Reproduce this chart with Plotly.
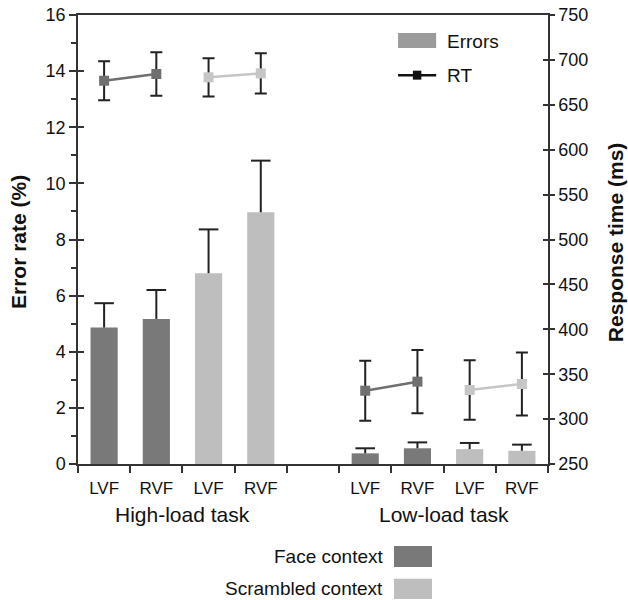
import plotly.graph_objects as go

# ---- data ----
slot_labels = ["LVF", "RVF", "LVF", "RVF", "", "LVF", "RVF", "LVF", "RVF"]
task_labels = ["High-load task", "Low-load task"]

# error rates (%) : [LVF, RVF]
err_face_high = [4.86, 5.17]
err_scr_high = [6.80, 8.97]
err_face_low = [0.38, 0.56]
err_scr_low = [0.53, 0.47]
err_se_face_high = [0.87, 1.03]
err_se_scr_high = [1.56, 1.84]
err_se_face_low = [0.18, 0.21]
err_se_scr_low = [0.22, 0.22]

# response times (ms) : [LVF, RVF]
rt_face_high = [676.8, 684.3]
rt_scr_high = [680.6, 685.0]
rt_face_low = [331.6, 341.7]
rt_scr_low = [332.4, 339.1]
rt_se_face_high = [21.7, 24.1]
rt_se_scr_high = [21.3, 22.3]
rt_se_face_low = [33.4, 35.2]
rt_se_scr_low = [33.0, 35.2]

left_ticks = list(range(0, 17, 2))
right_ticks = list(range(250, 751, 50))

# ---- styling ----
FACE = "#797979"
SCR = "#bebebe"
FACE_LINE = "#6f6f6f"
SCR_LINE = "#c6c6c6"
ERR_COL = "#222222"
AX_COL = "#333333"
FONT = "Arial, Liberation Sans, sans-serif"

# slot indices
high_face_x = [0, 1]
high_scr_x = [2, 3]
low_face_x = [5, 6]
low_scr_x = [7, 8]

fig = go.Figure()

bar_w = 0.52
bar_groups = [
    (high_face_x + low_face_x, err_face_high + err_face_low, err_se_face_high + err_se_face_low, FACE),
    (high_scr_x + low_scr_x, err_scr_high + err_scr_low, err_se_scr_high + err_se_scr_low, SCR),
]
for xs, vals, se, col in bar_groups:
    fig.add_trace(go.Bar(x=xs, y=vals, width=bar_w,
                         marker=dict(color=col, line=dict(width=0)),
                         showlegend=False, yaxis="y"))

# one-sided (upward) error bars for the bars
for xs, vals, se, col in bar_groups:
    ex, ey = [], []
    for x, v, s in zip(xs, vals, se):
        ex += [x, x, None]
        ey += [v, v + s, None]
    fig.add_trace(go.Scatter(x=ex, y=ey, mode="lines", line=dict(color=ERR_COL, width=2),
                             showlegend=False, hoverinfo="skip", yaxis="y"))
    fig.add_trace(go.Scatter(x=xs, y=[v + s for v, s in zip(vals, se)], mode="markers",
                             marker=dict(symbol="line-ew", size=14,
                                         line=dict(color=ERR_COL, width=2)),
                             showlegend=False, hoverinfo="skip", yaxis="y"))

for xs, ys, se, col in [
    (high_face_x, rt_face_high, rt_se_face_high, FACE_LINE),
    (high_scr_x, rt_scr_high, rt_se_scr_high, SCR_LINE),
    (low_face_x, rt_face_low, rt_se_face_low, FACE_LINE),
    (low_scr_x, rt_scr_low, rt_se_scr_low, SCR_LINE),
]:
    fig.add_trace(go.Scatter(
        x=xs, y=ys, mode="lines+markers", yaxis="y2",
        line=dict(color=col, width=2.5),
        marker=dict(symbol="square", size=10, color=col),
        error_y=dict(type="data", array=se, color=ERR_COL, thickness=2, width=6),
        showlegend=False))

# invisible traces to activate the inside-tick overlay axes
fig.add_trace(go.Scatter(x=[None], y=[None], yaxis="y3", showlegend=False, hoverinfo="skip"))
fig.add_trace(go.Scatter(x=[None], y=[None], yaxis="y4", showlegend=False, hoverinfo="skip"))

annotations = []
for i, t in enumerate(task_labels):
    annotations.append(dict(text=t, x=1.5 + 5 * i, xref="x", y=-0.112, yref="paper",
                            showarrow=False, font=dict(size=21, color="#111", family=FONT),
                            xanchor="center", yanchor="middle"))
annotations.append(dict(text="<b>Error rate (%)</b>", x=-0.128, xref="paper", y=0.494, yref="paper",
                        textangle=-90, showarrow=False, font=dict(size=21, color="#111", family=FONT),
                        xanchor="center", yanchor="middle"))
annotations.append(dict(text="<b>Response time (ms)</b>", x=1.1426, xref="paper", y=0.494, yref="paper",
                        textangle=-90, showarrow=False, font=dict(size=21, color="#111", family=FONT),
                        xanchor="center", yanchor="middle"))
annotations.append(dict(text="Errors", x=0.781, xref="paper", y=0.942, yref="paper",
                        showarrow=False, font=dict(size=19, color="#111", family=FONT),
                        xanchor="left", yanchor="middle"))
annotations.append(dict(text="RT", x=0.781, xref="paper", y=0.866, yref="paper",
                        showarrow=False, font=dict(size=19, color="#111", family=FONT),
                        xanchor="left", yanchor="middle"))
annotations.append(dict(text="Face context", x=0.653, xref="paper", y=-0.207, yref="paper",
                        showarrow=False, font=dict(size=19, color="#111", family=FONT),
                        xanchor="right", yanchor="middle"))
annotations.append(dict(text="Scrambled context", x=0.653, xref="paper", y=-0.278, yref="paper",
                        showarrow=False, font=dict(size=19, color="#111", family=FONT),
                        xanchor="right", yanchor="middle"))

shapes = [
    dict(type="rect", xref="paper", yref="paper", x0=0.681, x1=0.762, y0=0.9265, y1=0.960,
         fillcolor="#9b9b9b", line=dict(width=0)),
    dict(type="line", xref="paper", yref="paper", x0=0.681, x1=0.762, y0=0.866, y1=0.866,
         line=dict(color="#111", width=2.5)),
    dict(type="rect", xref="paper", yref="paper", x0=0.7125, x1=0.7305, y0=0.856, y1=0.876,
         fillcolor="#111", line=dict(width=0)),
    dict(type="rect", xref="paper", yref="paper", x0=0.6723, x1=0.7532, y0=-0.2294, y1=-0.1826,
         fillcolor=FACE, line=dict(width=0)),
    dict(type="rect", xref="paper", yref="paper", x0=0.6723, x1=0.7532, y0=-0.3006, y1=-0.2554,
         fillcolor=SCR, line=dict(width=0)),
]

fig.update_layout(
    width=628, height=600,
    margin=dict(l=78, r=80, t=15, b=136, autoexpand=False),
    paper_bgcolor="white", plot_bgcolor="white",
    font=dict(family=FONT, color="#111"),
    barmode="overlay",
    showlegend=False,
    xaxis=dict(
        range=[-0.5, len(slot_labels) - 0.5],
        tickmode="array",
        tickvals=[i for i, s in enumerate(slot_labels) if s],
        ticktext=[s for s in slot_labels if s],
        ticks="", ticklabelstandoff=8,
        tickfont=dict(size=17, family=FONT, color="#111"),
        showline=True, linecolor=AX_COL, linewidth=1.5, mirror=True,
        showgrid=False, zeroline=False,
        minor=dict(ticks="outside", tick0=-0.5, dtick=1, ticklen=7, tickcolor=AX_COL, tickwidth=1.5),
    ),
    yaxis=dict(
        range=[0, 16], tickmode="array", tickvals=left_ticks,
        ticks="outside", ticklen=7, tickwidth=1.5, tickcolor=AX_COL,
        tickfont=dict(size=18, family=FONT, color="#111"),
        showline=True, linecolor=AX_COL, linewidth=1.5,
        showgrid=False, zeroline=False,
        minor=dict(ticks="outside", dtick=1, tick0=0, ticklen=5, tickcolor=AX_COL, tickwidth=1.5),
    ),
    yaxis2=dict(
        range=[250, 750], overlaying="y", side="right", anchor="x",
        tickmode="array", tickvals=right_ticks,
        ticks="outside", ticklen=5, tickwidth=1.5, tickcolor=AX_COL,
        tickfont=dict(size=18, family=FONT, color="#111"),
        showline=True, linecolor=AX_COL, linewidth=1.5,
        showgrid=False, zeroline=False,
    ),
    yaxis3=dict(
        range=[250, 750], overlaying="y", side="right", anchor="x",
        tickmode="array", tickvals=right_ticks,
        ticks="inside", ticklen=5, tickwidth=1.5, tickcolor=AX_COL,
        showticklabels=False, showline=False, showgrid=False, zeroline=False,
    ),
    yaxis4=dict(
        range=[0, 16], overlaying="y", side="left", anchor="x",
        tickmode="array", tickvals=left_ticks,
        ticks="inside", ticklen=6, tickwidth=1.5, tickcolor=AX_COL,
        showticklabels=False, showline=False, showgrid=False, zeroline=False,
    ),
    annotations=annotations,
    shapes=shapes,
)

fig.write_html("out.html",
               config={"displayModeBar": False},
               post_script="document.body.style.margin='0';document.body.style.overflow='hidden';")
